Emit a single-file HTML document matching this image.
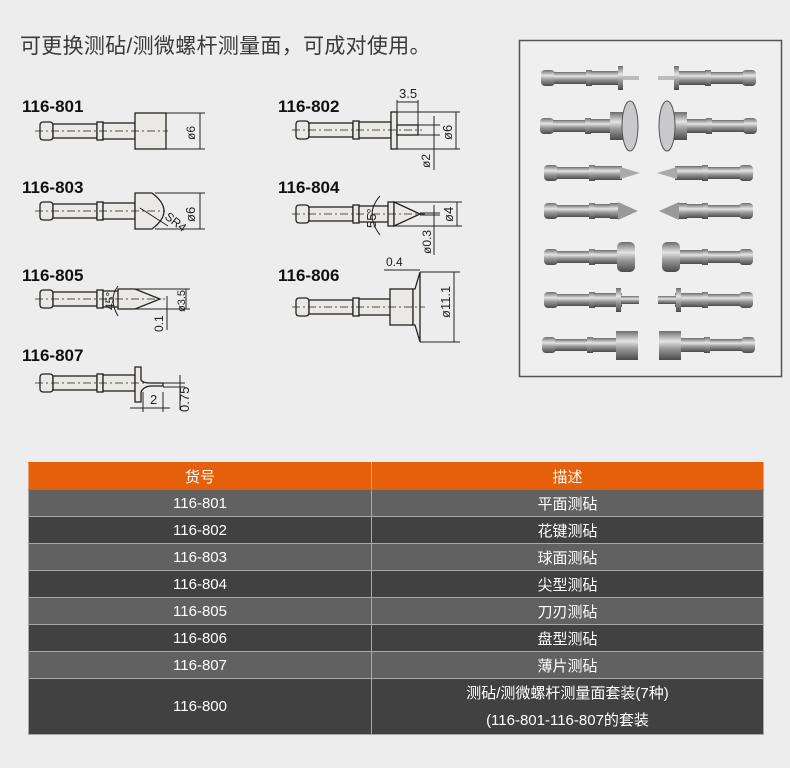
<!DOCTYPE html>
<html><head><meta charset="utf-8"><style>
body{margin:0;width:790px;height:768px;background:#ededed;font-family:"Liberation Sans","Noto Sans CJK SC",sans-serif;position:relative;overflow:hidden}
.t{position:absolute;left:20px;top:30px;font-size:21px;color:#3a3a3a;letter-spacing:0.3px}
table{position:absolute;left:28px;top:462px;width:736px;border-collapse:collapse;color:#fff;font-size:15px}
td{border:1px solid #a8a8a8;text-align:center;height:26px;padding:0}
tr.h td{background:#e65f0a;border-color:#e65f0a #e8a070}
tr.l td{background:#616161}
tr.d td{background:#414141}
</style></head><body>
<div class="t">可更换测砧/测微螺杆测量面，可成对使用。</div>
<svg width="790" height="460" style="position:absolute;left:0;top:0" font-family="Liberation Sans, sans-serif">
<defs>
<g id="sh" stroke="#222" stroke-width="1.3" fill="#ebe9e6">
<rect x="0" y="-9" width="13" height="18" rx="3"/>
<rect x="13" y="-7" width="44" height="14"/>
<rect x="57" y="-9" width="6" height="18"/>
<rect x="63" y="-8" width="32" height="16"/>
</g>
<linearGradient id="m" x1="0" y1="0" x2="0" y2="1"><stop offset="0" stop-color="#6d6d6d"/><stop offset=".35" stop-color="#e4e4e4"/><stop offset=".6" stop-color="#9a9a9a"/><stop offset="1" stop-color="#4a4a4a"/></linearGradient>
<g id="pL"><rect x="0" y="-8" width="14" height="16" rx="4" fill="url(#m)"/><rect x="13" y="-6" width="33" height="12" fill="url(#m)"/><rect x="45" y="-8" width="6" height="16" fill="url(#m)"/><rect x="50" y="-7" width="28" height="14" fill="url(#m)"/></g>
</defs>
<g font-weight="bold" font-size="17" fill="#111">
<text x="22" y="112">116-801</text><text x="278" y="112">116-802</text>
<text x="22" y="193">116-803</text><text x="278" y="193">116-804</text>
<text x="22" y="281">116-805</text><text x="278" y="281">116-806</text>
<text x="22" y="361">116-807</text>
</g>
<g stroke="#222" stroke-width="1" fill="none" font-size="12">
<!-- 801 -->
<use href="#sh" x="40" y="131"/>
<rect x="135" y="113" width="31" height="36" fill="#ebe9e6" stroke-width="1.3"/>
<line x1="166" y1="113" x2="205" y2="113"/><line x1="166" y1="149" x2="205" y2="149"/><line x1="200" y1="113" x2="200" y2="149"/>
<text x="0" y="0" transform="translate(195,140) rotate(-90)" fill="#222" stroke="none">ø6</text>
<line x1="35" y1="131" x2="168" y2="131" stroke-dasharray="8,3,2,3" stroke-width=".8"/>
<!-- 803 -->
<use href="#sh" x="40" y="211"/>
<path d="M135 193 H152 Q176 211 152 229 H135 Z" fill="#ebe9e6" stroke-width="1.3"/>
<line x1="155" y1="193" x2="205" y2="193"/><line x1="155" y1="229" x2="205" y2="229"/><line x1="200" y1="193" x2="200" y2="229"/>
<line x1="140" y1="208" x2="168" y2="226"/>
<text transform="translate(164,218) rotate(38)" fill="#222" stroke="none">SR4</text>
<text transform="translate(195,222) rotate(-90)" fill="#222" stroke="none" font-size="13">ø6</text>
<line x1="35" y1="211" x2="165" y2="211" stroke-dasharray="8,3,2,3" stroke-width=".8"/>
<!-- 805 -->
<use href="#sh" x="40" y="299"/>
<path d="M118 289 H135 L160 299 L135 309 H118 Z" fill="#ebe9e6" stroke-width="1.3"/>
<path d="M118 286 Q108 299 118 316" />
<line x1="135" y1="289" x2="190" y2="289"/><line x1="135" y1="309" x2="190" y2="309"/><line x1="186" y1="289" x2="186" y2="309"/>
<line x1="167" y1="296" x2="167" y2="330"/>
<text transform="translate(114,310) rotate(-90)" fill="#222" stroke="none">45°</text>
<text transform="translate(185,312) rotate(-90)" fill="#222" stroke="none" font-size="11">ø3.5</text>
<text transform="translate(163,332) rotate(-90)" fill="#222" stroke="none">0.1</text>
<line x1="35" y1="299" x2="165" y2="299" stroke-dasharray="8,3,2,3" stroke-width=".8"/>
<!-- 807 -->
<use href="#sh" x="40" y="383"/>
<path d="M135 367 H141 V380 Q143 383 150 383 H163 V386 H150 Q143 387 141 392 V402 H135 Z" fill="#ebe9e6" stroke-width="1.3"/>
<line x1="163" y1="383" x2="185" y2="383"/><line x1="163" y1="387" x2="185" y2="387"/>
<line x1="180" y1="375" x2="180" y2="410"/>
<line x1="143" y1="392" x2="143" y2="412"/><line x1="163" y1="392" x2="163" y2="412"/><line x1="130" y1="408" x2="170" y2="408"/>
<text x="150" y="404" fill="#222" stroke="none" font-size="13">2</text>
<text transform="translate(189,412) rotate(-90)" fill="#222" stroke="none" font-size="13">0.75</text>
<line x1="35" y1="383" x2="150" y2="383" stroke-dasharray="8,3,2,3" stroke-width=".8"/>
<!-- 802 -->
<use href="#sh" x="296" y="130"/>
<rect x="391" y="112" width="6" height="37" fill="#ebe9e6" stroke-width="1.3"/>
<rect x="397" y="125" width="21" height="10" fill="#ebe9e6" stroke-width="1.3"/>
<line x1="397" y1="100" x2="397" y2="112"/><line x1="418" y1="100" x2="418" y2="125"/><line x1="397" y1="102" x2="418" y2="102"/>
<text x="399" y="98" fill="#222" stroke="none" font-size="13">3.5</text>
<line x1="397" y1="112" x2="460" y2="112"/><line x1="397" y1="149" x2="460" y2="149"/><line x1="456" y1="112" x2="456" y2="149"/>
<line x1="418" y1="125" x2="440" y2="125"/><line x1="418" y1="135" x2="440" y2="135"/><line x1="434" y1="116" x2="434" y2="170"/>
<text transform="translate(452,140) rotate(-90)" fill="#222" stroke="none" font-size="13">ø6</text>
<text transform="translate(430,168) rotate(-90)" fill="#222" stroke="none">ø2</text>
<line x1="292" y1="130" x2="422" y2="130" stroke-dasharray="8,3,2,3" stroke-width=".8"/>
<!-- 804 -->
<use href="#sh" x="296" y="214"/>
<rect x="388" y="202" width="6" height="24" fill="#ebe9e6" stroke-width="1.3"/>
<path d="M394 202 L420 214 L394 226 Z" fill="#ebe9e6" stroke-width="1.3"/>
<path d="M380 196 Q364 214 380 235"/>
<line x1="394" y1="202" x2="462" y2="202"/><line x1="394" y1="226" x2="462" y2="226"/><line x1="457" y1="202" x2="457" y2="226"/>
<line x1="420" y1="213" x2="440" y2="213"/><line x1="420" y1="215" x2="440" y2="215"/><line x1="434" y1="205" x2="434" y2="255"/>
<text transform="translate(376,228) rotate(-90)" fill="#222" stroke="none" font-size="13">55°</text>
<text transform="translate(453,222) rotate(-90)" fill="#222" stroke="none" font-size="13">ø4</text>
<text transform="translate(431,254) rotate(-90)" fill="#222" stroke="none">ø0.3</text>
<line x1="292" y1="214" x2="425" y2="214" stroke-dasharray="8,3,2,3" stroke-width=".8"/>
<!-- 806 -->
<use href="#sh" x="296" y="307"/>
<rect x="390" y="289" width="23" height="36" fill="#ebe9e6" stroke-width="1.3"/>
<path d="M413 289 L415 289 L420 272 V342 L415 325 H413 Z" fill="#ebe9e6" stroke-width="1.3"/>
<line x1="420" y1="272" x2="460" y2="272"/><line x1="420" y1="342" x2="460" y2="342"/><line x1="454" y1="272" x2="454" y2="342"/>
<line x1="384" y1="270" x2="420" y2="270"/>
<text x="386" y="266" fill="#222" stroke="none" font-size="12">0.4</text>
<text transform="translate(450,318) rotate(-90)" fill="#222" stroke="none" font-size="13">ø11.1</text>
<line x1="292" y1="307" x2="425" y2="307" stroke-dasharray="8,3,2,3" stroke-width=".8"/>
</g>
<!-- photo panel -->
<rect x="519.5" y="40.5" width="262" height="336" fill="#efefef" stroke="#555" stroke-width="1.5"/>
<g>
<use href="#pL" x="541" y="78"/><rect x="618" y="66" width="5" height="24" fill="url(#m)"/><rect x="623" y="76" width="16" height="4" fill="#bbb"/>
<use href="#pL" x="540" y="126"/><rect x="610" y="112" width="18" height="28" fill="url(#m)"/><ellipse cx="630" cy="126" rx="8" ry="25" fill="#c9c9cc" stroke="#555"/>
<use href="#pL" x="544" y="173"/><path d="M620 167 L640 173 L620 179 Z" fill="#aaa"/><rect x="608" y="166" width="12" height="14" fill="url(#m)"/>
<use href="#pL" x="544" y="211"/><path d="M618 202 L638 211 L618 220 Z" fill="#999"/><rect x="610" y="203" width="8" height="16" fill="url(#m)"/>
<use href="#pL" x="544" y="257"/><rect x="617" y="242" width="18" height="30" rx="5" fill="url(#m)"/>
<use href="#pL" x="544" y="300"/><rect x="616" y="288" width="5" height="24" fill="url(#m)"/><rect x="621" y="296" width="18" height="8" fill="url(#m)"/>
<use href="#pL" x="542" y="345"/><rect x="616" y="331" width="22" height="29" fill="url(#m)"/>
<g transform="translate(1297,0) scale(-1,1)">
<use href="#pL" x="541" y="78"/><rect x="618" y="66" width="5" height="24" fill="url(#m)"/><rect x="623" y="76" width="16" height="4" fill="#bbb"/>
<use href="#pL" x="540" y="126"/><rect x="610" y="112" width="18" height="28" fill="url(#m)"/><ellipse cx="630" cy="126" rx="8" ry="25" fill="#c9c9cc" stroke="#555"/>
<use href="#pL" x="544" y="173"/><path d="M620 167 L640 173 L620 179 Z" fill="#aaa"/><rect x="608" y="166" width="12" height="14" fill="url(#m)"/>
<use href="#pL" x="544" y="211"/><path d="M618 202 L638 211 L618 220 Z" fill="#999"/><rect x="610" y="203" width="8" height="16" fill="url(#m)"/>
<use href="#pL" x="544" y="257"/><rect x="617" y="242" width="18" height="30" rx="5" fill="url(#m)"/>
<use href="#pL" x="544" y="300"/><rect x="616" y="288" width="5" height="24" fill="url(#m)"/><rect x="621" y="296" width="18" height="8" fill="url(#m)"/>
<use href="#pL" x="542" y="345"/><rect x="616" y="331" width="22" height="29" fill="url(#m)"/>
</g>
</g>
</svg>
<table>
<tr class="h"><td style="width:342px">货号</td><td>描述</td></tr>
<tr class="l"><td>116-801</td><td>平面测砧</td></tr>
<tr class="d"><td>116-802</td><td>花键测砧</td></tr>
<tr class="l"><td>116-803</td><td>球面测砧</td></tr>
<tr class="d"><td>116-804</td><td>尖型测砧</td></tr>
<tr class="l"><td>116-805</td><td>刀刃测砧</td></tr>
<tr class="d"><td>116-806</td><td>盘型测砧</td></tr>
<tr class="l"><td>116-807</td><td>薄片测砧</td></tr>
<tr class="d"><td style="height:55px">116-800</td><td style="height:55px;line-height:27px">测砧/测微螺杆测量面套装(7种)<br>(116-801-116-807的套装</td></tr>
</table>
</body></html>
